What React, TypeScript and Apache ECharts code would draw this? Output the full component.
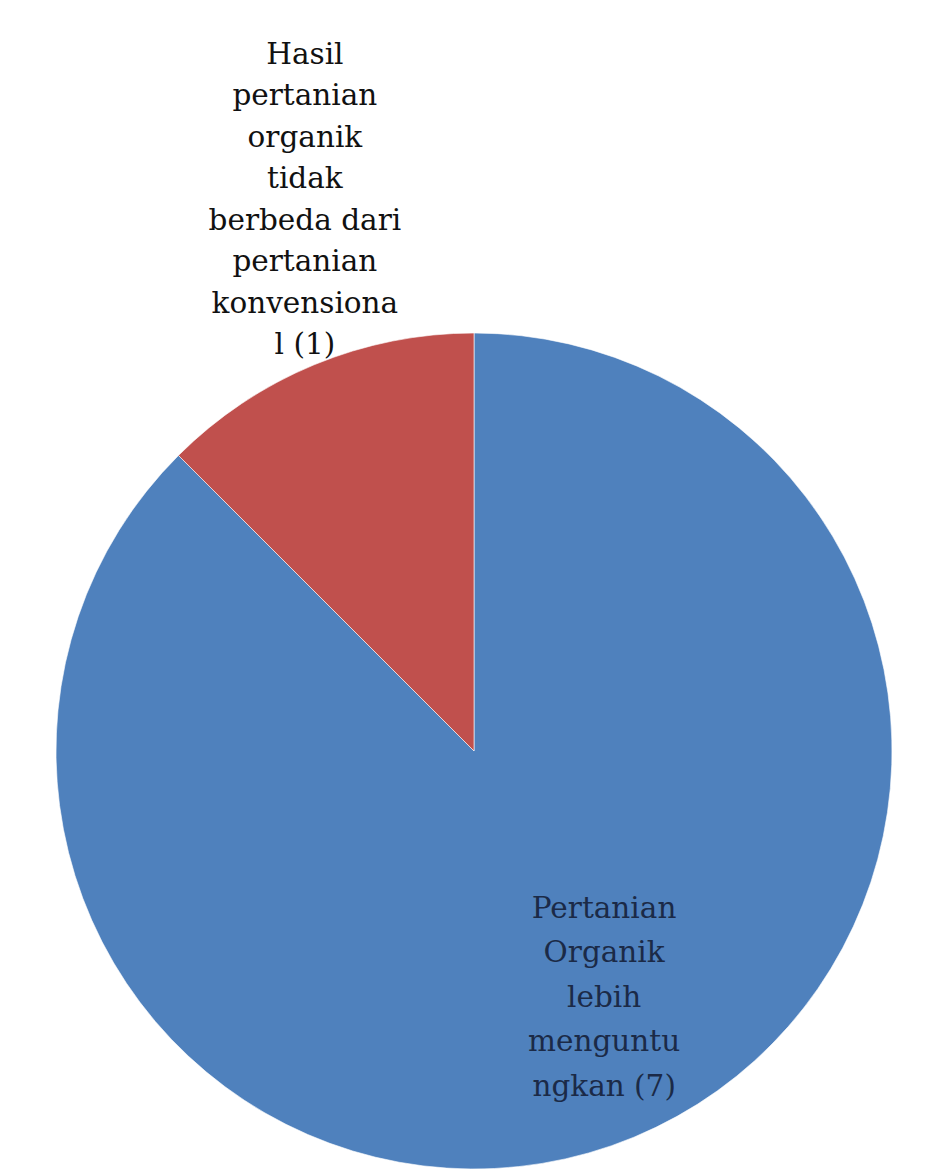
import React, { useEffect, useRef } from "react";
import * as echarts from "echarts";

const categories = [
  "Pertanian Organik lebih menguntungkan",
  "Hasil pertanian organik tidak berbeda dari pertanian konvensional",
];
const values = [7, 1];
const labelLines = [
  ["Pertanian", "Organik", "lebih", "menguntu", "ngkan (7)"],
  ["Hasil", "pertanian", "organik", "tidak", "berbeda dari", "pertanian", "konvensiona", "l (1)"],
];
const colors = ["#4F81BD", "#C0504D"];

export default function App() {
  const ref = useRef<HTMLDivElement>(null);
  useEffect(() => {
    document.body.style.margin = "0";
    if (!ref.current) return;
    const chart = echarts.init(ref.current, undefined, { renderer: "svg" });
    const labelCfg = [
      { color: "#1b2a47", lineHeight: 44.5, offset: [49, 50] },
      { color: "#111111", lineHeight: 41.5, offset: [-88, -356] },
    ];
    chart.setOption({
      animation: false,
      backgroundColor: "#ffffff",
      series: [
        {
          type: "pie",
          center: [474, 751],
          radius: [0, 418],
          startAngle: 90,
          clockwise: true,
          avoidLabelOverlap: false,
          labelLine: { show: false },
          itemStyle: { borderColor: "rgba(255,255,255,0.6)", borderWidth: 1 },
          emphasis: { disabled: true },
          data: categories.map((name, i) => ({
            name,
            value: values[i],
            itemStyle: { color: colors[i] },
            label: {
              show: true,
              position: "inside",
              formatter: labelLines[i].join("\n"),
              fontFamily: "DejaVu Serif",
              fontSize: 29.5,
              align: "center",
              color: labelCfg[i].color,
              lineHeight: labelCfg[i].lineHeight,
              offset: labelCfg[i].offset,
            },
          })),
        },
      ],
    });
    return () => chart.dispose();
  }, []);
  return <div ref={ref} style={{ width: 937, height: 1173 }} />;
}
